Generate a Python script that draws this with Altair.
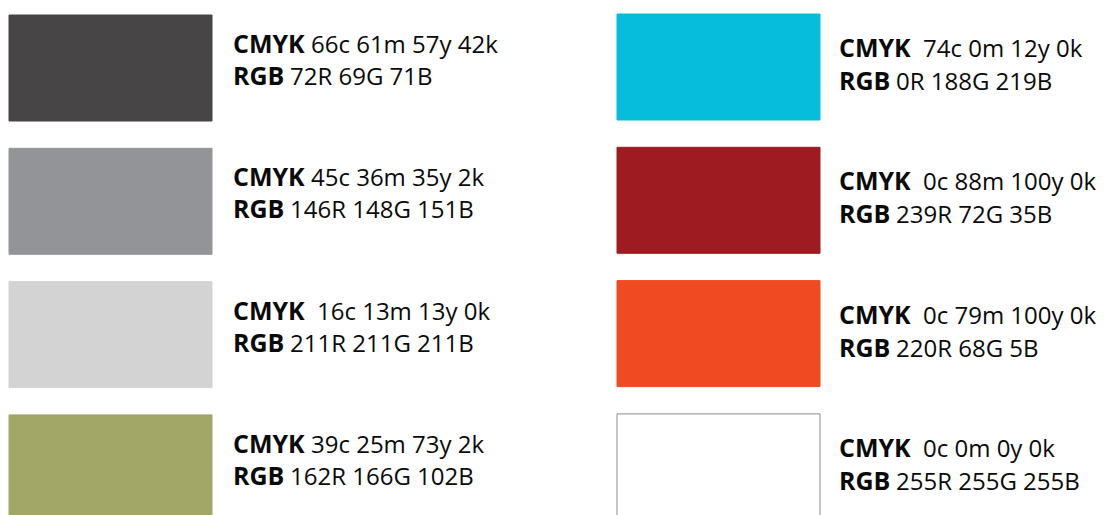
import altair as alt
import pandas as pd

# Swatch data (column 0 = left, column 1 = right; row 0..3 top to bottom)
cols = [0, 0, 0, 0, 1, 1, 1, 1]
rows = [0, 1, 2, 3, 0, 1, 2, 3]
colors = ["#484547", "#929497", "#d3d3d3", "#a2a666",
          "#06bddb", "#9e1b22", "#f04a23", "#ffffff"]
# a leading space marks the double space after "CMYK" in the original
cmyk_values = ["66c 61m 57y 42k", "45c 36m 35y 2k", " 16c 13m 13y 0k", "39c 25m 73y 2k",
               " 74c 0m 12y 0k", " 0c 88m 100y 0k", " 0c 79m 100y 0k", " 0c 0m 0y 0k"]
rgb_values = ["72R 69G 71B", "146R 148G 151B", "211R 211G 211B", "162R 166G 102B",
              "0R 188G 219B", "239R 72G 35B", "220R 68G 5B", "255R 255G 255B"]

df = pd.DataFrame({
    "col": cols, "row": rows, "color": colors,
    "cmyk": cmyk_values, "rgb": rgb_values,
})
df["stroke"] = df["color"].where(df["color"] != "#ffffff", "#8c8c8c")
df["cmyk_label"] = "CMYK"
df["rgb_label"] = "RGB"

W, H = 1095, 507
COL_PITCH = 608.0
ROW_PITCH = 133.3
xscale = alt.Scale(domain=[-1 / COL_PITCH, (W - 1) / COL_PITCH], nice=False, zero=False)
yscale = alt.Scale(domain=[-7 / ROW_PITCH, (H - 7) / ROW_PITCH], nice=False, zero=False, reverse=True)

base = alt.Chart(df).transform_calculate(
    x1="datum.col",
    x2="datum.col + 203/608",
    y1="datum.row - datum.col*1/133.3",
    y2="datum.row - datum.col*1/133.3 + 106/133.3",
    tx="datum.col + 224/608 - datum.col*2/608",
    ty1="datum.row + 38/133.3 + datum.col*4/133.3",
    ty2="datum.row + 70/133.3 + datum.col*5/133.3",
).transform_calculate(
    cx="datum.tx + (indexof(datum.cmyk, ' ') == 0 ? 6/608 : 0)",
    cmyk_text="trim(datum.cmyk)",
)

swatches = base.mark_rect(strokeWidth=1).encode(
    x=alt.X("x1:Q", scale=xscale, axis=None),
    x2="x2:Q",
    y=alt.Y("y1:Q", scale=yscale, axis=None),
    y2="y2:Q",
    fill=alt.Fill("color:N", scale=None),
    stroke=alt.Stroke("stroke:N", scale=None),
)

font = "Open Sans"
tcolor = "#0a0a0a"

def text_layer(field, xcol, ycol, bold, dx, size):
    return base.mark_text(
        align="left", baseline="alphabetic", font=font, fontSize=size,
        fontWeight="bold" if bold else "normal", color=tcolor, dx=dx,
    ).encode(
        x=alt.X(f"{xcol}:Q", scale=xscale, axis=None),
        y=alt.Y(f"{ycol}:Q", scale=yscale, axis=None),
        text=f"{field}:N",
    )

chart = alt.layer(
    swatches,
    text_layer("cmyk_label", "tx", "ty1", True, 0, 25),
    text_layer("cmyk_text", "cx", "ty1", False, 78, 24),
    text_layer("rgb_label", "tx", "ty2", True, 0, 25),
    text_layer("rgb", "tx", "ty2", False, 57, 24),
).properties(
    width=W, height=H, padding=0,
    autosize=alt.AutoSizeParams(type="none"),
).configure_view(stroke=None)

chart.save("out.html", embed_options={"renderer": "svg", "actions": False})
